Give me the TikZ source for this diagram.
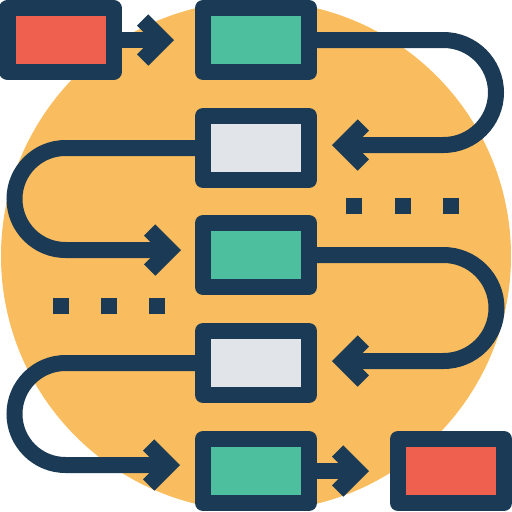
\documentclass[tikz,border=0pt]{standalone}
\usetikzlibrary{arrows.meta,calc}
\definecolor{navy}{HTML}{1B3A55}
\definecolor{sun}{HTML}{F9BD5F}
\definecolor{grn}{HTML}{4EBF9E}
\definecolor{rd}{HTML}{EF604E}
\definecolor{gry}{HTML}{E1E4E8}
\tikzset{
  box/.style={draw=navy, line width=16pt, line join=round, minimum width=106pt,
    minimum height=64pt, inner sep=0pt, outer sep=8pt},
  flow/.style={draw=navy, line width=16pt,
    -{Straight Barb[length=20pt,width=40pt,line cap=butt,line join=miter]}},
}
\begin{document}
\begin{tikzpicture}[x=1pt,y=-1pt]
  \useasboundingbox (0,0) rectangle (512,512);
  \fill[sun] (256,256) circle [radius=255];

  \node[box, fill=rd] (first) at (60.5,40) {};
  \foreach \n/\y/\c in {s1/40/grn, s2/148/gry, s3/255/grn, s4/363/gry, s5/471/grn}{
    \node[box, fill=\c] (\n) at (256,\y) {};
  }
  \node[box, fill=rd] (last) at (451,471) {};

  \draw[flow, shorten >=21pt] (first) -- (s1);
  \draw[flow] (s1.east) -- (443.5,40) arc[start angle=-90, end angle=90, radius=52.5]
    -- ($(s2.east)+(15,-3)$);
  \draw[flow] (s2.west) -- (65.5,148) arc[start angle=270, end angle=90, radius=51]
    -- ($(s3.west)+(-14,-5)$);
  \draw[flow] (s3.east) -- (443.5,255) arc[start angle=-90, end angle=90, radius=53]
    -- ($(s4.east)+(15,-2)$);
  \draw[flow] (s4.west) -- (65.5,363) arc[start angle=270, end angle=90, radius=51]
    -- ($(s5.west)+(-15,-6)$);
  \draw[flow, shorten >=21pt] (s5) -- (last);

  % dots
  \foreach \x in {354,403,451}{
    \fill[navy] (\x-8,198) rectangle ++(16,16);
  }
  \foreach \x in {61,109,157}{
    \fill[navy] (\x-8,298) rectangle ++(16,16);
  }
\end{tikzpicture}
\end{document}
